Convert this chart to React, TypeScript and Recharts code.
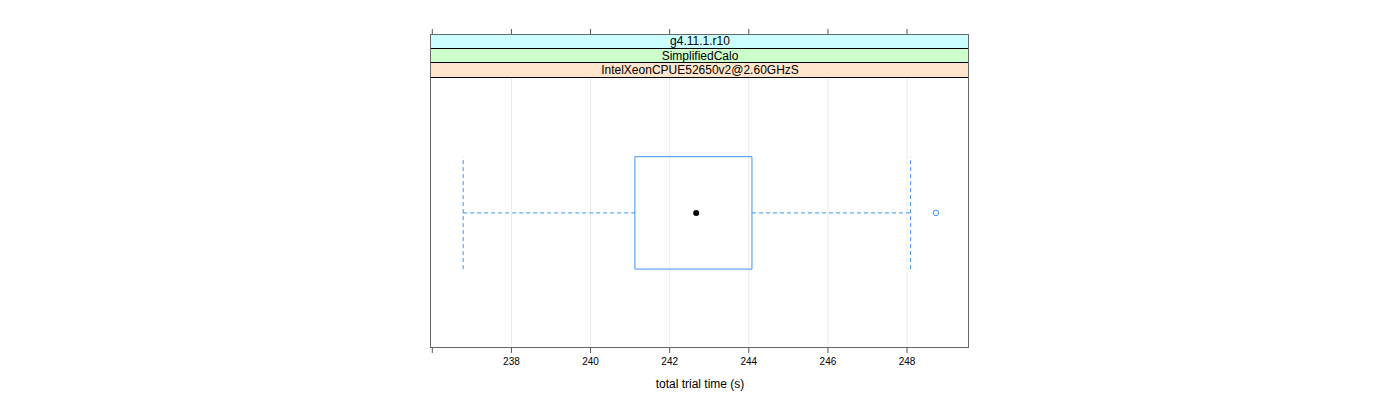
import {
  ComposedChart,
  XAxis,
  YAxis,
  CartesianGrid,
  ReferenceArea,
  ReferenceLine,
  Scatter,
} from "recharts";

// strip labels, top to bottom
const stripLabels = ["g4.11.1.r10", "SimplifiedCalo", "IntelXeonCPUE52650v2@2.60GHzS"];
const stripColors = ["#ccffff", "#ccffcc", "#ffe5cc"];

// box statistics for total trial time (s)
const whiskerLow = 236.78;
const q1 = 241.12;
const median = 242.67;
const q3 = 244.08;
const whiskerHigh = 248.09;
const outliers = [248.73];

const xTicks = [236, 238, 240, 242, 244, 246, 248];

const W = 1384;
const H = 384;
const BLUE = "#3d94f5";
const FONT = "'Liberation Sans', Arial, sans-serif";

// panel geometry (relative to the root div)
const panelLeft = 423;
const panelTop = 26;
const panelWidth = 538;
const panelHeight = 314;
const stripH = 14.6;

// y: the area under the strips is 0..1, strips sit above 1
const yTop = 1 + (stripH * 3) / (panelHeight - stripH * 3);
const yMid = 0.5;
const boxHalf = 0.208;

const medianPts = [{ x: median, y: yMid }];
const outlierPts = outliers.map((v) => ({ x: v, y: yMid }));

export default function App() {
  return (
    <div style={{ position: "relative", width: W, height: H, fontFamily: FONT }}>
      <ComposedChart
        width={W}
        height={H}
        margin={{ top: panelTop - 6, right: W - panelLeft - panelWidth, bottom: 0, left: panelLeft }}
      >
        <CartesianGrid horizontal={false} stroke="#ebebeb" verticalValues={xTicks.slice(1)} />
        <XAxis
          xAxisId="top"
          orientation="top"
          type="number"
          dataKey="x"
          domain={[235.967, 249.566]}
          ticks={xTicks}
          height={6}
          tickSize={5}
          axisLine={false}
          tickLine={{ stroke: "#555" }}
          tick={() => <g />}
          allowDataOverflow
        />
        <XAxis
          type="number"
          dataKey="x"
          domain={[235.967, 249.566]}
          ticks={xTicks}
          height={44}
          tickSize={5}
          tickMargin={5}
          axisLine={false}
          tickLine={{ stroke: "#555" }}
          tick={{ fill: "#000", fontSize: 10, fontFamily: FONT }}
          tickFormatter={(v: number) => (v === 236 ? "" : String(v))}
          allowDataOverflow
          label={{
            value: "total trial time (s)",
            position: "insideBottom",
            offset: 4,
            fill: "#000",
            fontSize: 12,
            fontFamily: FONT,
          }}
        />
        <YAxis type="number" dataKey="y" domain={[0, yTop]} hide />
        <ReferenceArea
          x1={q1}
          x2={q3}
          y1={yMid - boxHalf}
          y2={yMid + boxHalf}
          fill="none"
          fillOpacity={0}
          stroke={BLUE}
          strokeWidth={1}
          ifOverflow="visible"
        />
        <ReferenceLine
          segment={[{ x: whiskerLow, y: yMid }, { x: q1, y: yMid }]}
          stroke={BLUE}
          strokeDasharray="4 3"
        />
        <ReferenceLine
          segment={[{ x: q3, y: yMid }, { x: whiskerHigh, y: yMid }]}
          stroke={BLUE}
          strokeDasharray="4 3"
        />
        <ReferenceLine
          segment={[{ x: whiskerLow, y: yMid - boxHalf }, { x: whiskerLow, y: yMid + boxHalf }]}
          stroke={BLUE}
          strokeDasharray="4 3"
        />
        <ReferenceLine
          segment={[{ x: whiskerHigh, y: yMid - boxHalf }, { x: whiskerHigh, y: yMid + boxHalf }]}
          stroke={BLUE}
          strokeDasharray="4 3"
        />
        <Scatter
          data={medianPts}
          isAnimationActive={false}
          shape={(p: any) => <circle cx={p.cx} cy={p.cy} r={3} fill="#000" />}
        />
        <Scatter
          data={outlierPts}
          isAnimationActive={false}
          shape={(p: any) => <circle cx={p.cx} cy={p.cy} r={2.8} fill="none" stroke={BLUE} strokeWidth={1} />}
        />
      </ComposedChart>
      {/* strips */}
      {stripLabels.map((s, i) => (
        <div
          key={s}
          style={{
            position: "absolute",
            left: panelLeft,
            top: panelTop + i * stripH,
            width: panelWidth,
            height: stripH,
            background: stripColors[i],
            borderBottom: "1px solid #000",
            boxSizing: "border-box",
            textAlign: "center",
            fontSize: 12,
            lineHeight: `${stripH}px`,
            color: "#000",
          }}
        >
          {s}
        </div>
      ))}
      {/* panel border */}
      <div
        style={{
          position: "absolute",
          left: panelLeft - 1,
          top: panelTop,
          width: panelWidth + 1,
          height: panelHeight,
          border: "1px solid #666",
          boxSizing: "border-box",
          pointerEvents: "none",
        }}
      />
    </div>
  );
}
